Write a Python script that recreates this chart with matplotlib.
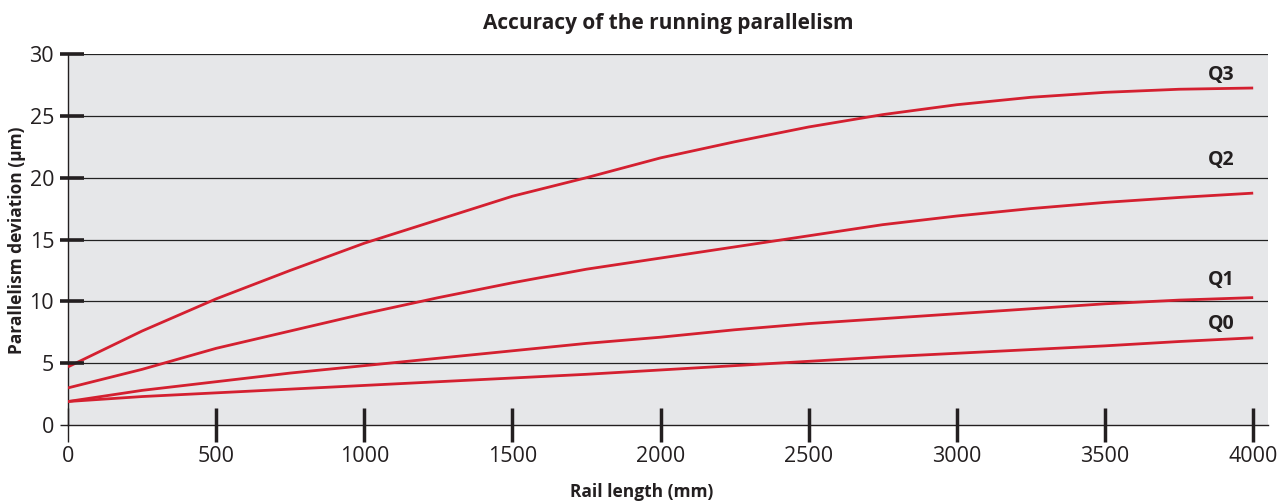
import numpy as np
import matplotlib
matplotlib.use("Agg")
import matplotlib.pyplot as plt

plt.rcParams['font.family'] = ['Open Sans', 'DejaVu Sans']

# ----------------------------------------------------------
# data
# ----------------------------------------------------------
rail_length = [0, 250, 500, 750, 1000, 1250, 1500, 1750, 2000,
               2250, 2500, 2750, 3000, 3250, 3500, 3750, 4000]
q3 = [4.7, 7.6, 10.2, 12.5, 14.7, 16.6, 18.5, 20.0, 21.6,
      22.9, 24.1, 25.1, 25.9, 26.5, 26.9, 27.15, 27.25]
q2 = [3.0, 4.5, 6.2, 7.6, 9.0, 10.3, 11.5, 12.6, 13.5,
      14.4, 15.3, 16.2, 16.9, 17.5, 18.0, 18.4, 18.75]
q1 = [1.9, 2.8, 3.5, 4.2, 4.8, 5.4, 6.0, 6.6, 7.1,
      7.7, 8.2, 8.6, 9.0, 9.4, 9.8, 10.1, 10.3]
q0 = [1.9, 2.3, 2.6, 2.9, 3.2, 3.5, 3.8, 4.1, 4.45,
      4.8, 5.15, 5.5, 5.8, 6.1, 6.4, 6.75, 7.05]
series_names = ['Q3', 'Q2', 'Q1', 'Q0']
label_y = [28.3, 21.4, 11.7, 8.2]

x_ticks = [0, 500, 1000, 1500, 2000, 2500, 3000, 3500, 4000]
y_ticks = [0, 5, 10, 15, 20, 25, 30]

# ----------------------------------------------------------
# figure
# ----------------------------------------------------------
ink = '#231f20'
W, H = 1288, 504
fig = plt.figure(figsize=(W/100, H/100), dpi=100)
ax = fig.add_axes([68/W, 1 - 425/H, 1200/W, 371/H])
ax.set_facecolor('#e6e7e9')

for yv in y_ticks[1:]:
    ax.axhline(yv, color='#222222', linewidth=0.9, zorder=1)

red = '#d42030'
for vals in [q3, q2, q1, q0]:
    ax.plot(rail_length, vals, color=red, linewidth=2.0, zorder=3,
            solid_capstyle='butt')

for name, yl in zip(series_names, label_y):
    ax.text(3892, yl, name, ha='center', va='center',
            fontsize=14, fontweight='bold', color=ink)

ax.set_xlim(0, 4050)
ax.set_ylim(0, 30)

for side in ['top', 'right']:
    ax.spines[side].set_visible(False)
for side in ['left', 'bottom']:
    ax.spines[side].set_color(ink)
    ax.spines[side].set_linewidth(1.0)

# y ticks: thick marks that stick out 8 px and in 16 px
ytrans = ax.get_yaxis_transform()
ax.hlines(y_ticks[1:], -8/1200, 16/1200, transform=ytrans, colors=ink,
          linewidth=2.6, clip_on=False, zorder=4)
ax.hlines(y_ticks[:1], -8/1200, 0, transform=ytrans, colors=ink,
          linewidth=1.0, clip_on=False, zorder=4)

ax.set_xticks(x_ticks)
ax.set_yticks(y_ticks)
ax.tick_params(axis='both', labelsize=15.5, colors=ink)
ax.tick_params(axis='y', length=0, pad=10)
ax.tick_params(axis='x', direction='inout', length=24, width=2.5, pad=3)
ax.xaxis.get_major_ticks()[0].tick1line.set_markeredgewidth(1.0)

ax.set_title('Accuracy of the running parallelism', fontsize=15,
             fontweight='bold', color=ink, pad=18)

# axis titles placed like in the reference
fig.text(642/W, 1 - 492/H, 'Rail length (mm)', ha='center', va='center',
         fontsize=12.5, fontweight='bold', color=ink)
fig.text(17/W, 1 - 240/H, 'Parallelism deviation (µm)', ha='center',
         va='center', rotation=90, fontsize=12.5, fontweight='bold', color=ink)

fig.savefig('out.png', dpi=100)
